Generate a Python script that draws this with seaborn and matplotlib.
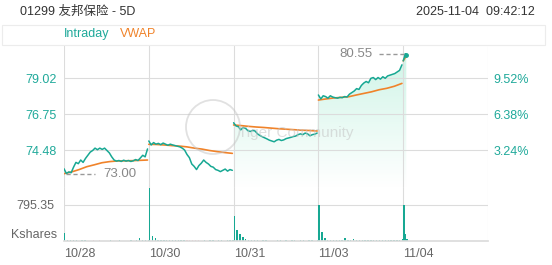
import numpy as np
import pandas as pd
import seaborn as sns
import matplotlib
matplotlib.use("Agg")
import matplotlib.pyplot as plt
from matplotlib.patches import PathPatch, Circle, Rectangle
from matplotlib.colors import LinearSegmentedColormap

# ---------------- data ----------------
days = ["10/28", "10/30", "10/31", "11/03", "11/04"]
title = "01299 友邦保险 - 5D"
stamp = "2025-11-04  09:42:12"

price_1028 = [73.30, 73.00, 73.10, 73.05, 73.40, 73.70, 73.62, 73.85, 73.70, 73.95, 74.15, 74.35,
              74.45, 74.60, 74.50, 74.60, 74.52, 74.60, 74.45, 74.30, 74.05, 73.85, 73.78,
              73.82, 73.76, 73.84, 73.78, 73.82, 73.76, 73.80, 73.88, 73.82, 73.98, 74.15, 74.05, 74.55]
price_1030 = [75.05, 74.80, 74.95, 74.85, 74.90, 74.82, 74.92, 74.85, 74.78, 74.85, 74.80, 74.76,
              74.72, 74.68, 74.60, 74.48, 74.20, 74.00, 73.60, 73.45, 73.25, 73.50, 73.65, 73.85,
              73.70, 73.60, 73.45, 73.40, 73.25, 73.20, 73.12, 73.20, 73.28, 73.15, 73.25, 73.20]
price_1031 = [76.20, 76.00, 75.95, 75.75, 75.90, 75.85, 75.70, 75.65, 75.72, 75.68, 75.50, 75.40,
              75.32, 75.25, 75.18, 75.10, 75.05, 75.00, 75.10, 75.15, 75.08, 75.12, 75.20, 75.24,
              75.28, 75.33, 75.36, 75.45, 75.50, 75.45, 75.55, 75.50, 75.38, 75.45, 75.48, 75.55]
price_1103 = [77.95, 77.70, 77.90, 77.85, 77.75, 77.90, 77.82, 77.78, 77.75, 77.80, 77.78, 77.85,
              77.82, 78.00, 78.10, 78.20, 78.35, 78.30, 78.55, 78.70, 78.80, 78.72, 79.00, 79.05,
              78.92, 79.05, 78.95, 79.10, 79.00, 79.15, 79.20, 79.25, 79.30, 79.40, 79.50, 79.85]
price_1104 = [80.10, 80.30, 80.55, 80.50]

vwap_1028 = [72.99, 73.10, 73.25, 73.43, 73.55, 73.68, 73.75, 73.79, 73.80, 73.81, 73.83, 73.85]
vwap_1030 = [74.84, 74.83, 74.80, 74.76, 74.73, 74.68, 74.60, 74.54, 74.45, 74.38, 74.32, 74.27]
vwap_1031 = [76.06, 76.02, 75.97, 75.93, 75.90, 75.86, 75.82, 75.79, 75.76, 75.73, 75.71, 75.68]
vwap_1103 = [77.63, 77.70, 77.76, 77.80, 77.84, 77.95, 78.05, 78.15, 78.28, 78.37, 78.50, 78.68]
vwap_1104 = [80.10, 80.20, 80.30, 80.35]

vol_1028 = [180, 25, 15, 20, 12, 10, 15, 18, 10, 8, 12, 10, 14, 10, 8,
            10, 12, 8, 10, 12, 10, 8, 10, 15, 10, 30, 66, 25, 20, 30]
vol_1030 = [1170, 120, 60, 30, 25, 20, 15, 18, 12, 15, 20, 25, 30, 20, 15,
            12, 18, 15, 10, 12, 10, 15, 12, 10, 15, 12, 10, 14, 12, 20]
vol_1031 = [552, 250, 150, 90, 50, 30, 20, 15, 12, 10, 14, 12, 10, 8, 10,
            12, 15, 10, 12, 10, 14, 12, 10, 15, 12, 10, 14, 12, 10, 15]
vol_1103 = [795, 200, 60, 30, 25, 20, 15, 30, 20, 66, 20, 15, 40, 25, 30,
            20, 15, 25, 20, 18, 15, 20, 15, 18, 12, 15, 20, 18, 25, 40]
vol_1104 = [795, 150, 40]
dir_1028 = "uuuuuuuuuddddduuuuuuuuuuuuuuuu"
dir_1030 = "uuuuuuuuuuuuudddddduuuuuuuuuuu"
dir_1031 = "uuuuuuuuuuuuuuuuuuuuuuuuuuuuuu"
dir_1103 = "uuuuuuuuuuuuuuuuuuuuuuuuuuuuuu"
dir_1104 = "uuu"

price_ticks = [74.48, 76.75, 79.02]
pct_labels = ["3.24%", "6.38%", "9.52%"]
prev_close = 72.15
price_top = 81.10
vol_tick = 795.35
vol_top = 1193
day5_frac = 12 / 330  # elapsed share of the 11/04 session

prices = [price_1028, price_1030, price_1031, price_1103, price_1104]
vwaps = [vwap_1028, vwap_1030, vwap_1031, vwap_1103, vwap_1104]
vols = [vol_1028, vol_1030, vol_1031, vol_1103, vol_1104]
dirs = [dir_1028, dir_1030, dir_1031, dir_1103, dir_1104]

# ---------------- frames ----------------
def span(i, n):
    frac = day5_frac if i == 4 else 0.985
    return np.linspace(i, i + frac, n)

p_rows, v_rows, q_rows = [], [], []
for i in range(5):
    for x, y in zip(span(i, len(prices[i])), prices[i]):
        p_rows.append((days[i], x, y))
    for x, y in zip(span(i, len(vwaps[i])), vwaps[i]):
        v_rows.append((days[i], x, y))
    for x, y, d in zip(span(i, len(vols[i])), vols[i], dirs[i]):
        q_rows.append((days[i], x, y, d))
pdf = pd.DataFrame(p_rows, columns=["day", "x", "price"])
vdf = pd.DataFrame(v_rows, columns=["day", "x", "vwap"])
qdf = pd.DataFrame(q_rows, columns=["day", "x", "vol", "dir"])

# ---------------- style ----------------
sns.set_theme(style="white")
plt.rcParams["font.family"] = ["Liberation Sans", "Noto Sans CJK SC", "DejaVu Sans"]
TEAL = "#17a893"
TEAL_TXT = "#1fa99a"
ORANGE = "#f0832a"
GRID = "#dcdcdc"
GRAY = "#666666"

W, H = 552, 265
fig = plt.figure(figsize=(W / 100, H / 100), dpi=100)
L, R = 64 / W, 488 / W
ax = fig.add_axes([L, 1 - 187 / H, R - L, (187 - 45) / H])
axv = fig.add_axes([L, 1 - 241 / H, R - L, (241 - 187) / H])

# gradient fill under the last sessions
fill_df = pdf[pdf["x"] >= 2]
xs = fill_df["x"].to_numpy()
ys = fill_df["price"].to_numpy()
poly = ax.fill_between(xs, ys, prev_close, color="none", lw=0)
patch = PathPatch(poly.get_paths()[0], transform=ax.transData, facecolor="none", edgecolor="none")
ax.add_patch(patch)
cmap = LinearSegmentedColormap.from_list("g", ["#ffffff", "#cdf4e6"])
grad = np.linspace(1, 0, 256).reshape(-1, 1)
im = ax.imshow(grad, cmap=cmap, aspect="auto", origin="upper",
               extent=[0, 5, prev_close, price_top], zorder=0.5)
im.set_clip_path(patch)

sns.lineplot(data=vdf, x="x", y="vwap", units="day", estimator=None, color=ORANGE,
             lw=1.2, ax=ax, zorder=3)
sns.lineplot(data=pdf, x="x", y="price", units="day", estimator=None, color=TEAL,
             lw=1.1, ax=ax, zorder=4)
last = pdf.iloc[-1]
ax.plot([last["x"]], [last["price"]], "o", ms=2.5, color=TEAL, zorder=5)

# high / low annotations
lo = pdf.loc[pdf["price"].idxmin()]
hi = pdf.loc[pdf["price"].idxmax()]
ax.plot([lo["x"], lo["x"] + 0.34], [lo["price"]] * 2, ls=(0, (3, 2)), color="#999999", lw=1, zorder=5)
ax.text(lo["x"] + 0.43, lo["price"], f"{lo['price']:.2f}", color="#888888", fontsize=9.5,
        va="center", ha="left")
ax.plot([hi["x"] - 0.31, hi["x"]], [hi["price"]] * 2, ls=(0, (3, 2)), color="#999999", lw=1, zorder=5)
ax.text(hi["x"] - 0.39, hi["price"], f"{hi['price']:.2f}", color="#888888", fontsize=9.5,
        va="center", ha="right")

ax.set_xlim(0, 5)
ax.set_ylim(prev_close, price_top)
ax.set_yticks(price_ticks)
ax.set_yticklabels([f"{t:.2f}" for t in price_ticks], color=TEAL_TXT, fontsize=9)
ax.set_xticks(range(6))
ax.set_xticklabels([])
ax.tick_params(axis="both", length=0, pad=5)
axr = ax.twinx()
axr.set_ylim(prev_close, price_top)
axr.set_yticks(price_ticks)
axr.set_yticklabels(pct_labels, color=TEAL_TXT, fontsize=9)
axr.tick_params(axis="y", length=0, pad=4)
ax.grid(True, color=GRID, lw=0.8)
ax.set_xlabel("")
ax.set_ylabel("")
for a in (ax, axr):
    for s in a.spines.values():
        s.set_visible(False)

# volume
colors = [TEAL if d == "u" else "#f3a3b3" for d in qdf["dir"]]
axv.bar(qdf["x"], qdf["vol"], width=0.016, color=colors, align="edge", lw=0)
axv.set_xlim(0, 5)
axv.set_ylim(0, vol_top)
axv.set_yticks([vol_tick])
axv.set_yticklabels([f"{vol_tick:.2f}"], color=GRAY, fontsize=9)
axv.set_xticks(range(5))
axv.set_xticklabels(days, color=GRAY, fontsize=9, ha="left")
axv.tick_params(axis="both", length=0, pad=5)
axv.tick_params(axis="y", pad=7)
axv.grid(True, color=GRID, lw=0.8)
axv.axvline(5, color=GRID, lw=0.8)
for k, s in axv.spines.items():
    s.set_visible(k == "bottom")
axv.spines["bottom"].set_color(GRID)
axv.annotate("Kshares", xy=(0, 0), xycoords="axes fraction", xytext=(-5, 4),
             textcoords="offset points", ha="right", va="center", color=GRAY, fontsize=9)

# header / legend strip
fig.text(20 / W, 1 - 12 / H, title, fontsize=9, color="#333333", va="center", ha="left")
fig.text(535 / W, 1 - 12 / H, stamp, fontsize=9, color="#333333", va="center", ha="right")
fig.add_artist(Rectangle((2 / W, 1 - 45 / H), 543 / W, 20 / H, transform=fig.transFigure,
                         facecolor="none", edgecolor="#ececec", lw=0.8))
fig.text(64 / W, 1 - 34 / H, "Intraday", fontsize=9, color=TEAL_TXT, va="center", ha="left")
fig.text(120 / W, 1 - 34 / H, "VWAP", fontsize=9, color=ORANGE, va="center", ha="left")

# watermark
fig.add_artist(Circle((2.13, 1.38), 0.27, transform=fig.dpi_scale_trans, facecolor="none",
                      edgecolor="#c4c4c4", lw=1.3, alpha=0.5, zorder=10))
fig.text(238 / W, 1 - 133 / H, "Tiger Community", fontsize=11, color="#c4c4c4", alpha=0.55,
         va="center", ha="left", zorder=10)

fig.savefig("out.png", dpi=100)
